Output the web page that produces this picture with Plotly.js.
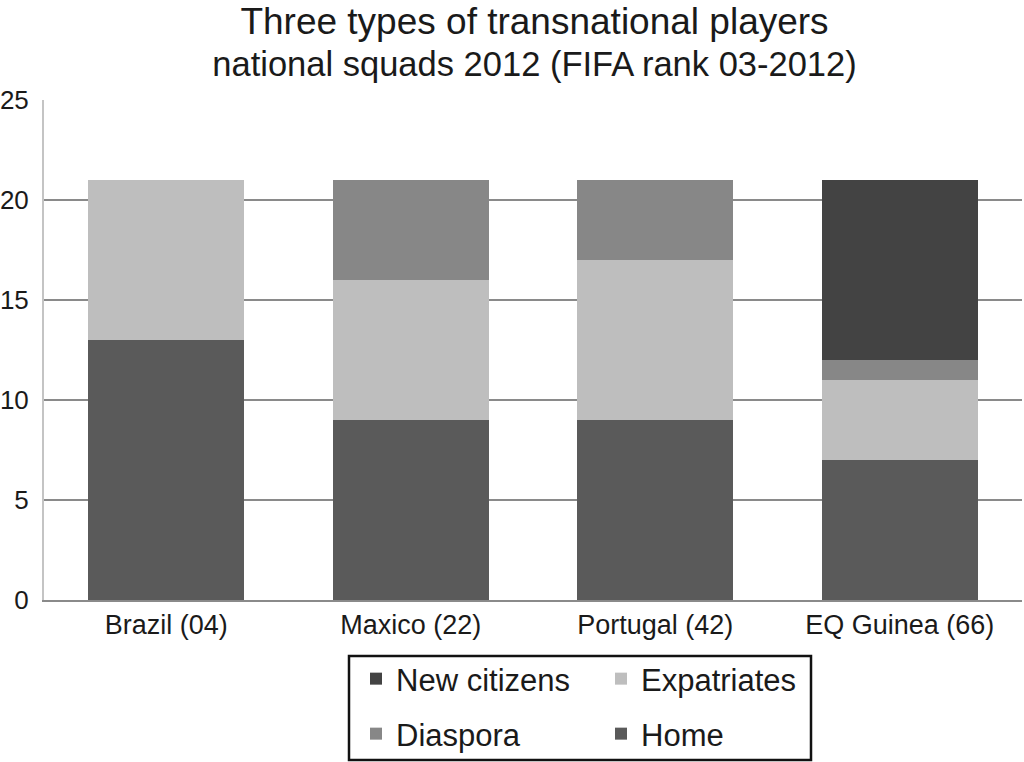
<!DOCTYPE html>
<html>
<head>
<meta charset="utf-8">
<script src="https://cdn.plot.ly/plotly-3.0.1.min.js"></script>
<style>html,body{margin:0;padding:0;background:#fff;}#chart{width:1024px;height:762px;}</style>
</head>
<body>
<div id="chart"></div>
<script>
var categories = ["Brazil (04)", "Maxico (22)", "Portugal (42)", "EQ Guinea (66)"];
var home = [13, 9, 9, 7];
var expatriates = [8, 7, 8, 4];
var diaspora = [0, 5, 4, 1];
var newCitizens = [0, 0, 0, 9];
var yTicks = [0, 5, 10, 15, 20, 25];

var FONT = "Liberation Sans, Arial, Helvetica, sans-serif";

var traces = [
  {type: "bar", name: "Home", x: categories, y: home, marker: {color: "#5a5a5a"}, legend: "legend2", legendrank: 2},
  {type: "bar", name: "Expatriates", x: categories, y: expatriates, marker: {color: "#bebebe"}, legend: "legend", legendrank: 2},
  {type: "bar", name: "Diaspora", x: categories, y: diaspora, marker: {color: "#878787"}, legend: "legend2", legendrank: 1},
  {type: "bar", name: "New citizens", x: categories, y: newCitizens, marker: {color: "#434343"}, legend: "legend", legendrank: 1}
];
traces.forEach(function(t){ t.hoverinfo = "skip"; });

var legendCommon = {
  orientation: "h",
  xref: "container", yref: "container",
  xanchor: "left", yanchor: "top",
  entrywidth: 200, entrywidthmode: "pixels",
  traceorder: "normal",
  bgcolor: "rgba(0,0,0,0)",
  borderwidth: 0,
  font: {family: FONT, size: 31, color: "#1a1a1a"},
  itemclick: false, itemdoubleclick: false
};

var layout = {
  width: 1024, height: 762,
  paper_bgcolor: "#fff", plot_bgcolor: "#fff",
  margin: {l: 44, r: 2, t: 100, b: 162},
  barmode: "stack",
  bargap: 0.36,
  font: {family: FONT, color: "#1a1a1a"},
  title: {
    text: "<span style='font-size:37px'>Three types of transnational players</span><br><span style='font-size:34.5px'>national squads 2012 (FIFA rank 03-2012)</span>",
    font: {family: FONT, size: 32, color: "#1a1a1a"},
    x: 0.522, xanchor: "center",
    yref: "container", y: 0.955, yanchor: "top"
  },
  xaxis: {
    type: "category",
    showline: true, linecolor: "#8a8a8a", linewidth: 2,
    showgrid: false, ticks: "",
    tickfont: {family: FONT, size: 27, color: "#1a1a1a"},
    fixedrange: true
  },
  yaxis: {
    range: [0, 25], tickvals: yTicks, ticktext: yTicks.map(String),
    showgrid: true, gridcolor: "#8a8a8a", gridwidth: 2,
    zeroline: false,
    showline: true, linecolor: "#c4c4c4", linewidth: 2,
    ticks: "", ticklabelstandoff: 8,
    tickfont: {family: FONT, size: 26, color: "#1a1a1a"},
    fixedrange: true
  },
  legend: Object.assign({}, legendCommon, {x: 356/1024, y: 1 - 652/762}),
  legend2: Object.assign({}, legendCommon, {x: 356/1024, y: 1 - 707/762}),
  shapes: [{
    type: "rect", xref: "paper", yref: "paper",
    x0: (349 - 44)/978, x1: (811 - 44)/978,
    y0: (600 - 656)/500, y1: (600 - 760)/500,
    line: {color: "#111", width: 2.5}, fillcolor: "rgba(0,0,0,0)", layer: "above"
  }]
};

Plotly.newPlot("chart", traces, layout, {displayModeBar: false, staticPlot: true});
</script>
</body>
</html>
